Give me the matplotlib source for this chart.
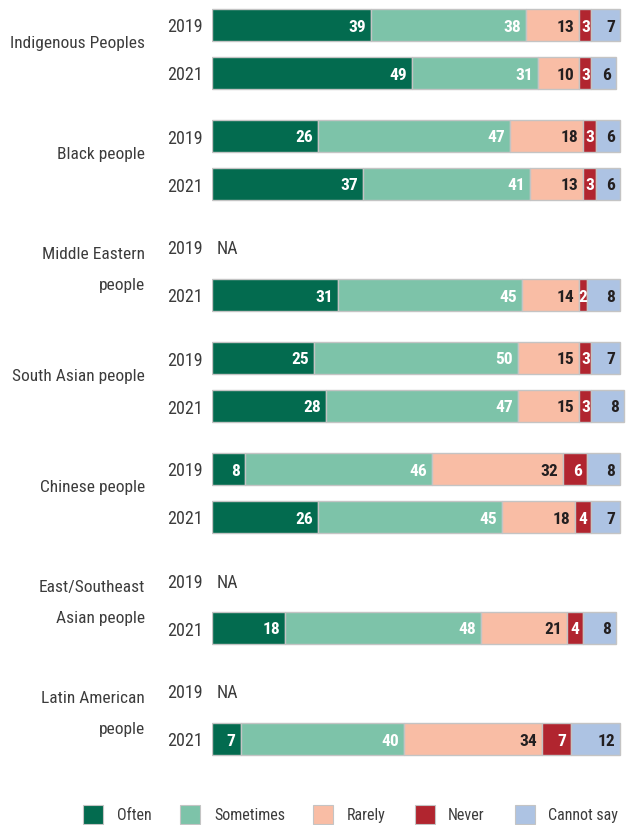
import matplotlib
matplotlib.use("Agg")
import matplotlib.pyplot as plt
from matplotlib import font_manager
from matplotlib.patches import Rectangle

# ---- data -----------------------------------------------------------------
groups = ["Indigenous Peoples", "Black people", "Middle Eastern\npeople",
          "South Asian people", "Chinese people", "East/Southeast\nAsian people",
          "Latin American\npeople"]
years = ["2019", "2021"]
categories = ["Often", "Sometimes", "Rarely", "Never", "Cannot say"]

values_2019 = [
    [39, 38, 13, 3, 7],
    [26, 47, 18, 3, 6],
    None,
    [25, 50, 15, 3, 7],
    [8, 46, 32, 6, 8],
    None,
    None,
]
values_2021 = [
    [49, 31, 10, 3, 6],
    [37, 41, 13, 3, 6],
    [31, 45, 14, 2, 8],
    [28, 47, 15, 3, 8],
    [26, 45, 18, 4, 7],
    [18, 48, 21, 4, 8],
    [7, 40, 34, 7, 12],
]

colors = ["#036b4f", "#7dc3a9", "#f9bda5", "#b1252f", "#adc3e3"]
label_colors = ["white", "white", "#231f20", "white", "#231f20"]
TEXT = "#3c3c3c"

# ---- fonts ----------------------------------------------------------------
available = {f.name for f in font_manager.fontManager.ttflist}
family = "DejaVu Sans"
stretch = "normal"
for cand in ["Liberation Sans Narrow", "Roboto Condensed", "Open Sans Condensed"]:
    if cand in available:
        family = cand
        break
else:
    stretch = "condensed"
plt.rcParams["font.family"] = [family, "DejaVu Sans"]
plt.rcParams["font.stretch"] = stretch

LABEL_FS = 12.5
YEAR_FS = 13
VALUE_FS = 12.5
LEGEND_FS = 11.5

# ---- figure / layout (pixel based) ----------------------------------------
W, H = 626, 825
fig = plt.figure(figsize=(W / 100, H / 100), dpi=100)
x0_px = 212
px_per_unit = 4.08
ax = fig.add_axes([x0_px / W, 0, (W - x0_px) / W, 1])
ax.set_xlim(0, (W - x0_px) / px_per_unit)
ax.set_ylim(H, 0)
ax.axis("off")

def px_to_x(px):
    return (px - x0_px) / px_per_unit

FIRST_2021 = 73
GROUP_STEP = 111
YEAR_GAP = 48
BAR_H = 32

for g, name in enumerate(groups):
    y21 = FIRST_2021 + g * GROUP_STEP
    y19 = y21 - YEAR_GAP
    for y, yr, vals in ((y19, "2019", values_2019[g]), (y21, "2021", values_2021[g])):
        ax.text(px_to_x(203), y + 7.5, yr, ha="right", va="baseline",
                fontsize=YEAR_FS, color=TEXT, clip_on=False)
        if vals is None:
            ax.text(px_to_x(217), y + 7.5, "NA", ha="left", va="baseline",
                    fontsize=YEAR_FS, color=TEXT)
            continue
        left = 0
        for k, v in enumerate(vals):
            ax.barh(y, v, left=left, height=BAR_H, color=colors[k],
                    edgecolor="#c4c4c4", linewidth=1.0)
            end = left + v
            if v < 5:
                tx, ha = left + v / 2, "center"
            else:
                tx, ha = end - 5 / px_per_unit, "right"
            ax.text(tx, y + 6.5, str(v), ha=ha, va="baseline", fontsize=VALUE_FS,
                    fontweight="bold", color=label_colors[k])
            left = end
    mid = (y19 + y21) / 2
    lines = name.split("\n")
    if len(lines) == 1:
        ax.text(px_to_x(145), mid - 1, name, ha="right", va="baseline",
                fontsize=LABEL_FS, color=TEXT, clip_on=False)
    else:
        ax.text(px_to_x(145), mid - 12, lines[0], ha="right", va="baseline",
                fontsize=LABEL_FS, color=TEXT, clip_on=False)
        ax.text(px_to_x(145), mid + 19, lines[1], ha="right", va="baseline",
                fontsize=LABEL_FS, color=TEXT, clip_on=False)

# ---- legend ---------------------------------------------------------------
leg_box_x = [83, 180, 313, 415, 515]
leg_text_x = [117, 214, 347, 448, 548]
for k, cat in enumerate(categories):
    fig.patches.append(Rectangle((leg_box_x[k] / W, 1 - 824 / H), 20 / W, 19 / H,
                                 transform=fig.transFigure, facecolor=colors[k],
                                 edgecolor="#c4c4c4", linewidth=0.8))
    fig.text(leg_text_x[k] / W, 1 - 820 / H, cat, ha="left", va="baseline",
             fontsize=LEGEND_FS, color=TEXT)

fig.savefig("out.png", dpi=100)
